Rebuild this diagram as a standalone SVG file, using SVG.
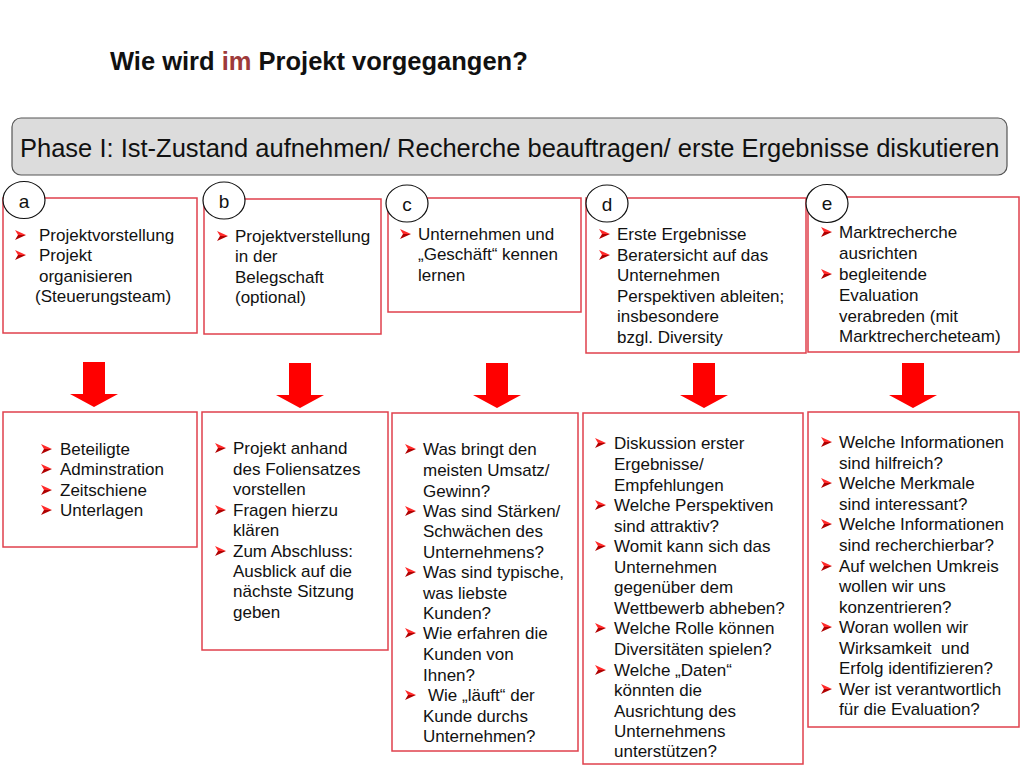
<svg xmlns="http://www.w3.org/2000/svg" xmlns:xlink="http://www.w3.org/1999/xlink" width="1024" height="768" viewBox="0 0 1024 768">
<style>
.box{fill:#fff;stroke:#e0404c;stroke-width:1.5}
.t{font-family:"Liberation Sans",Arial,sans-serif;font-size:17px;fill:#111}
.lbl{font-family:"Liberation Sans",Arial,sans-serif;font-size:19px;fill:#111;text-anchor:middle}
.circ{fill:#fff;stroke:#111;stroke-width:1.2}
.arr{fill:#ff0000}
</style>
<defs>
<g id="bul">
<polygon points="0,0 11,5 3,5" fill="#ff2a2a"/>
<polygon points="3,5 11,5 0,10" fill="#b00000"/>
</g>
</defs>
<rect width="1024" height="768" fill="#fff"/>

<g id="title">
<text x="110" y="70" font-family="'Liberation Sans',Arial,sans-serif" font-size="25.5" font-weight="bold" fill="#111">Wie wird <tspan fill="#9e3a3a">im</tspan> Projekt vorgegangen?</text>
</g>

<g id="phase">
<rect x="12" y="118" width="995" height="57" rx="9" fill="#dcdcdc" stroke="#555" stroke-width="1.2"/>
<text x="20" y="157" font-family="'Liberation Sans',Arial,sans-serif" font-size="25.5" fill="#111">Phase I: Ist-Zustand aufnehmen/ Recherche beauftragen/ erste Ergebnisse diskutieren</text>
</g>

<g id="connectors">
<polygon class="arr" points="83,362 105,362 105,394 118,394 94,407 70,394 83,394"/>
<polygon class="arr" points="289,363 311,363 311,395 324,395 300,408 276,395 289,395"/>
<polygon class="arr" points="486,363 508,363 508,395 521,395 497,408 473,395 486,395"/>
<polygon class="arr" points="693,363 715,363 715,395 728,395 704,408 680,395 693,395"/>
<polygon class="arr" points="902,363 924,363 924,395 937,395 913,408 889,395 902,395"/>
</g>

<g id="node-a">
<rect class="box" x="3" y="198" width="194" height="135"/>
<ellipse class="circ" cx="24" cy="200" rx="21" ry="18.5"/>
<text class="lbl" x="24" y="208">a</text>
<use xlink:href="#bul" x="15" y="230"/>
<use xlink:href="#bul" x="15" y="250"/>
<text class="t"><tspan x="39" y="241">Projektvorstellung</tspan><tspan x="39" y="261">Projekt</tspan><tspan x="39" y="282">organisieren</tspan><tspan x="35" y="302">(Steuerungsteam)</tspan></text>
</g>

<g id="node-b">
<rect class="box" x="204" y="199" width="177" height="135"/>
<ellipse class="circ" cx="224" cy="200.5" rx="21" ry="18.5"/>
<text class="lbl" x="224" y="208">b</text>
<use xlink:href="#bul" x="217" y="231"/>
<text class="t"><tspan x="235" y="242">Projektverstellung</tspan><tspan x="235" y="262">in der</tspan><tspan x="235" y="283">Belegschaft</tspan><tspan x="235" y="303">(optional)</tspan></text>
</g>

<g id="node-c">
<rect class="box" x="388" y="198" width="193" height="114"/>
<ellipse class="circ" cx="407" cy="203.5" rx="21" ry="18.5"/>
<text class="lbl" x="407" y="211">c</text>
<use xlink:href="#bul" x="400" y="229"/>
<text class="t"><tspan x="418" y="240">Unternehmen und</tspan><tspan x="418" y="260">„Geschäft“ kennen</tspan><tspan x="418" y="281">lernen</tspan></text>
</g>

<g id="node-d">
<rect class="box" x="586" y="198" width="220" height="155"/>
<ellipse class="circ" cx="607" cy="203.5" rx="21" ry="18.5"/>
<text class="lbl" x="607" y="211">d</text>
<use xlink:href="#bul" x="599" y="229"/>
<use xlink:href="#bul" x="599" y="250"/>
<text class="t"><tspan x="617" y="240">Erste Ergebnisse</tspan><tspan x="617" y="261">Beratersicht auf das</tspan><tspan x="617" y="281">Unternehmen</tspan><tspan x="617" y="302">Perspektiven ableiten;</tspan><tspan x="617" y="322">insbesondere</tspan><tspan x="617" y="343">bzgl. Diversity</tspan></text>
</g>

<g id="node-e">
<rect class="box" x="808" y="197" width="211" height="155"/>
<ellipse class="circ" cx="827" cy="203.5" rx="21" ry="19"/>
<text class="lbl" x="827" y="210">e</text>
<use xlink:href="#bul" x="821" y="227"/>
<use xlink:href="#bul" x="821" y="269"/>
<text class="t"><tspan x="839" y="238">Marktrecherche</tspan><tspan x="839" y="259">ausrichten</tspan><tspan x="839" y="280">begleitende</tspan><tspan x="839" y="301">Evaluation</tspan><tspan x="839" y="322">verabreden (mit</tspan><tspan x="839" y="342">Marktrechercheteam)</tspan></text>
</g>

<g id="node-a2">
<rect class="box" x="3" y="412" width="194" height="135"/>
<use xlink:href="#bul" x="41" y="444"/>
<use xlink:href="#bul" x="41" y="464"/>
<use xlink:href="#bul" x="41" y="485"/>
<use xlink:href="#bul" x="41" y="505"/>
<text class="t"><tspan x="60" y="455">Beteiligte</tspan><tspan x="60" y="475">Adminstration</tspan><tspan x="60" y="496">Zeitschiene</tspan><tspan x="60" y="516">Unterlagen</tspan></text>
</g>

<g id="node-b2">
<rect class="box" x="202" y="412" width="186" height="238"/>
<use xlink:href="#bul" x="215" y="443"/>
<use xlink:href="#bul" x="215" y="505"/>
<use xlink:href="#bul" x="215" y="546"/>
<text class="t"><tspan x="233" y="454">Projekt anhand</tspan><tspan x="233" y="475">des Foliensatzes</tspan><tspan x="233" y="495">vorstellen</tspan><tspan x="233" y="516">Fragen hierzu</tspan><tspan x="233" y="536">klären</tspan><tspan x="233" y="557">Zum Abschluss:</tspan><tspan x="233" y="577">Ausblick auf die</tspan><tspan x="233" y="597">nächste Sitzung</tspan><tspan x="233" y="618">geben</tspan></text>
</g>

<g id="node-c2">
<rect class="box" x="392" y="413" width="186" height="338"/>
<use xlink:href="#bul" x="405" y="444"/>
<use xlink:href="#bul" x="405" y="506"/>
<use xlink:href="#bul" x="405" y="567"/>
<use xlink:href="#bul" x="405" y="628"/>
<use xlink:href="#bul" x="405" y="690"/>
<text class="t"><tspan x="423" y="455">Was bringt den</tspan><tspan x="423" y="476">meisten Umsatz/</tspan><tspan x="423" y="497">Gewinn?</tspan><tspan x="423" y="517">Was sind Stärken/</tspan><tspan x="423" y="537">Schwächen des</tspan><tspan x="423" y="558">Unternehmens?</tspan><tspan x="423" y="578">Was sind typische,</tspan><tspan x="423" y="599">was liebste</tspan><tspan x="423" y="619">Kunden?</tspan><tspan x="423" y="639">Wie erfahren die</tspan><tspan x="423" y="660">Kunden von</tspan><tspan x="423" y="681">Ihnen?</tspan><tspan x="428" y="701">Wie „läuft“ der</tspan><tspan x="423" y="722">Kunde durchs</tspan><tspan x="423" y="742">Unternehmen?</tspan></text>
</g>

<g id="node-d2">
<rect class="box" x="583" y="413" width="220" height="351"/>
<use xlink:href="#bul" x="595" y="438"/>
<use xlink:href="#bul" x="595" y="500"/>
<use xlink:href="#bul" x="595" y="541"/>
<use xlink:href="#bul" x="595" y="623"/>
<use xlink:href="#bul" x="595" y="665"/>
<text class="t"><tspan x="614" y="449">Diskussion erster</tspan><tspan x="614" y="470">Ergebnisse/</tspan><tspan x="614" y="491">Empfehlungen</tspan><tspan x="614" y="511">Welche Perspektiven</tspan><tspan x="614" y="532">sind attraktiv?</tspan><tspan x="614" y="552">Womit kann sich das</tspan><tspan x="614" y="573">Unternehmen</tspan><tspan x="614" y="593">gegenüber dem</tspan><tspan x="614" y="614">Wettbewerb abheben?</tspan><tspan x="614" y="634">Welche Rolle können</tspan><tspan x="614" y="655">Diversitäten spielen?</tspan><tspan x="614" y="676">Welche „Daten“</tspan><tspan x="614" y="696">könnten die</tspan><tspan x="614" y="717">Ausrichtung des</tspan><tspan x="614" y="737">Unternehmens</tspan><tspan x="614" y="757">unterstützen?</tspan></text>
</g>

<g id="node-e2">
<rect class="box" x="808" y="412" width="211" height="315"/>
<use xlink:href="#bul" x="821" y="437"/>
<use xlink:href="#bul" x="821" y="478"/>
<use xlink:href="#bul" x="821" y="519"/>
<use xlink:href="#bul" x="821" y="561"/>
<use xlink:href="#bul" x="821" y="622"/>
<use xlink:href="#bul" x="821" y="684"/>
<text class="t" xml:space="preserve"><tspan x="839" y="448">Welche Informationen</tspan><tspan x="839" y="469">sind hilfreich?</tspan><tspan x="839" y="489">Welche Merkmale</tspan><tspan x="839" y="510">sind interessant?</tspan><tspan x="839" y="530">Welche Informationen</tspan><tspan x="839" y="551">sind recherchierbar?</tspan><tspan x="839" y="572">Auf welchen Umkreis</tspan><tspan x="839" y="592">wollen wir uns</tspan><tspan x="839" y="613">konzentrieren?</tspan><tspan x="839" y="633">Woran wollen wir</tspan><tspan x="839" y="654">Wirksamkeit  und</tspan><tspan x="839" y="674">Erfolg identifizieren?</tspan><tspan x="839" y="695">Wer ist verantwortlich</tspan><tspan x="839" y="715">für die Evaluation?</tspan></text>
</g>
</svg>
